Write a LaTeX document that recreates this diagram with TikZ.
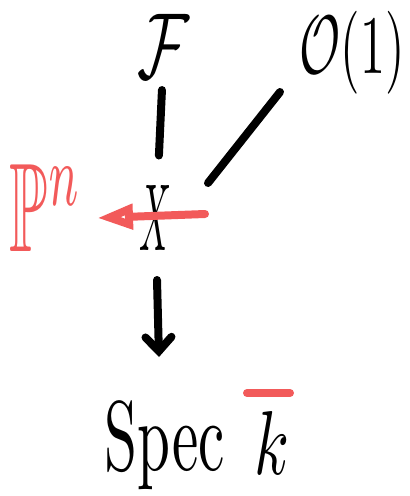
\documentclass[tikz,border=0pt]{standalone}
\usepackage{amssymb}
\usepackage{graphicx}
\usetikzlibrary{arrows.meta}
\definecolor{penred}{RGB}{242,90,90}
\tikzset{
  lbl/.style={inner sep=0pt, outer sep=0pt},
  stroke/.style={line width=8pt, line cap=round, line join=round},
}
\begin{document}
\begin{tikzpicture}[x=1pt,y=-1pt]
\useasboundingbox (0,0) rectangle (410,496);
\node[lbl] (F) at (164,46) {\resizebox*{52pt}{64pt}{$\mathcal{F}$}};
\node[lbl] (O) at (352,53) {\resizebox*{105pt}{83pt}{$\mathcal{O}(1)$}};
\node[lbl] (X) at (156,218) {\resizebox*{32pt}{65pt}{$X$}};
\node[lbl, text=penred] (P) at (46,208) {\resizebox*{72pt}{87pt}{$\mathbb{P}^n$}};
\node[lbl] (S) at (165,446) {\resizebox*{120pt}{87pt}{$\mathrm{Spec}$}};
\node[lbl] (k) at (272,443) {\resizebox*{35pt}{63pt}{$k$}};
\coordinate (d1) at (280,92);
\coordinate (d2) at (208,183);
\coordinate (r1) at (205,214);
\coordinate (r2) at (97,218);
\coordinate (a1) at (157,280);
\coordinate (a2) at (159,357);
\coordinate (b1) at (247,393);
\coordinate (b2) at (290,393);
\draw[stroke, shorten <=12pt, shorten >=30pt] (F) -- (X);
\draw[stroke] (d1) -- (d2);
\draw[stroke, penred, -{Triangle[open, length=36pt, width=24pt]}] (r1) -- (r2);
\draw[stroke, -{Straight Barb[length=14pt, width=26pt, line cap=round]}] (a1) -- (a2);
\draw[stroke, penred] (b1) -- (b2);
\end{tikzpicture}
\end{document}
